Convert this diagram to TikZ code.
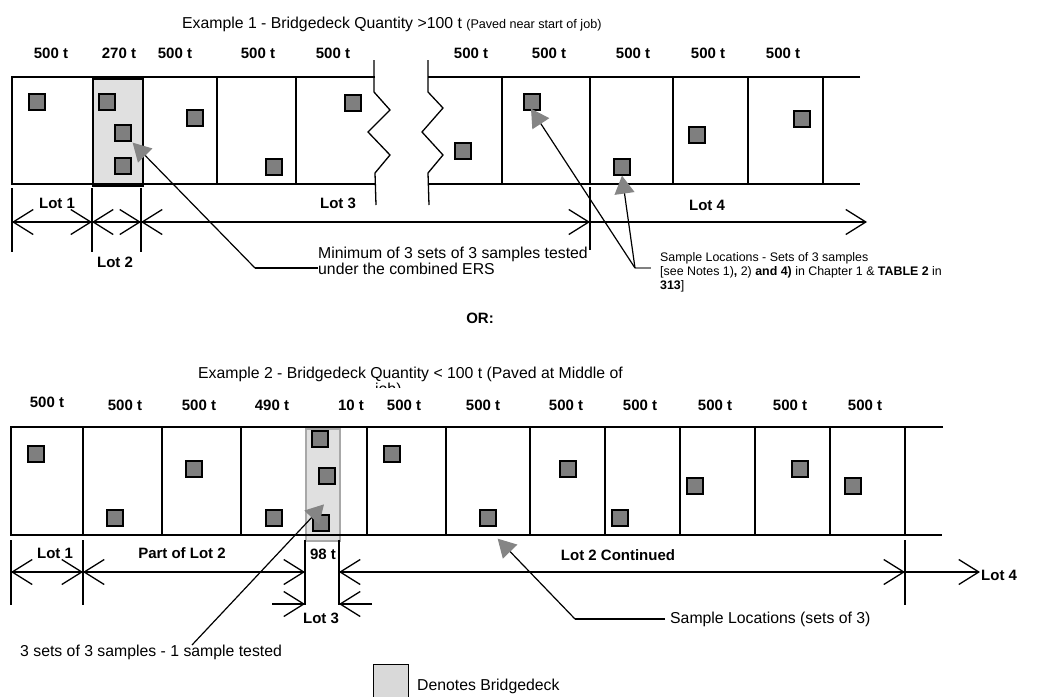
\documentclass[tikz,border=0pt]{standalone}
\usepackage{fontspec}
\setmainfont{Liberation Sans}
\usetikzlibrary{arrows.meta,calc}
\definecolor{sqgray}{HTML}{7F7F7F}
\definecolor{arrgray}{HTML}{858585}
\definecolor{deckgray}{HTML}{E0E0E0}
\definecolor{deckedge}{HTML}{A8A8A8}
\definecolor{leggray}{HTML}{D9D9D9}
\tikzset{
  ln/.style={line width=1.3pt},
  sq/.style={draw, line width=1.3pt, fill=sqgray, minimum size=16pt, inner sep=0pt},
  ton/.style={font=\fontsize{15}{18}\selectfont\bfseries, inner sep=0pt},
  lbl/.style={font=\fontsize{15}{18}\selectfont\bfseries, inner sep=0pt},
  txt/.style={font=\fontsize{15.8}{16}\selectfont, inner sep=0pt, align=left},
  smalltxt/.style={font=\fontsize{12.4}{14}\selectfont, inner sep=0pt, align=left},
  dimboth/.style={line width=1.3pt, {Straight Barb[length=20pt,width=25pt]}-{Straight Barb[length=20pt,width=25pt]}},
  dimend/.style={line width=1.3pt, -{Straight Barb[length=20pt,width=25pt]}},
  callout/.style={line width=1.2pt, -{Triangle[length=18pt,width=20pt,color=arrgray,fill=arrgray]}},
}
\begin{document}
\begin{tikzpicture}[x=1pt,y=-1pt]
\useasboundingbox (0,0) rectangle (1057,696);

% ---------------- Example 1 ----------------
\node[txt, anchor=base west] (title1) at (182,28) {Example 1 - Bridgedeck Quantity >100 t {\fontsize{12.6}{14}\selectfont(Paved near start of job)}};

\foreach \x/\t [count=\i] in {51/500 t,119/270 t,175/500 t,258/500 t,333/500 t,471/500 t,549/500 t,633/500 t,708/500 t,783/500 t}
  \node[ton] (ta\i) at (\x,53) {\t};

% deck (shaded)
\node[draw, line width=1.8pt, fill=deckgray, minimum width=50pt, minimum height=107pt, inner sep=0pt, anchor=north west] (deck1) at (92,78) {};

% strip left part
\draw[ln] (375,77) -- (12,77) -- (12,184) -- (376,184);
\foreach \x in {217,296} \draw[ln] (\x,77) -- (\x,184);
% strip right part
\draw[ln] (860,77) -- (428,77);
\draw[ln] (428,184) -- (860,184);
\foreach \x in {502,590,673,748,823} \draw[ln] (\x,77) -- (\x,184);
% break lines
\draw[ln] (374,60) -- (374,92) -- (390,110) -- (368,132) -- (390,155) -- (375,173) -- (376,205);
\draw[ln] (428,60) -- (428,92) -- (443,108) -- (422,132) -- (443,155) -- (428,173) -- (429,205);

% samples
\node[sq] (e1a) at (37,102) {};
\node[sq] (e1b) at (107,102) {};
\node[sq] (e1c) at (123,133) {};
\node[sq] (e1d) at (123,166) {};
\node[sq] (e1e) at (195,118) {};
\node[sq] (e1f) at (274,167) {};
\node[sq] (e1g) at (353,103) {};
\node[sq] (e1h) at (463,151) {};
\node[sq] (e1i) at (532,102) {};
\node[sq] (e1j) at (622,167) {};
\node[sq] (e1k) at (697,135) {};
\node[sq] (e1l) at (802,119) {};

% dimension lines
\foreach \x in {12,92,141} \draw[ln] (\x,188) -- (\x,252);
\draw[ln] (590,187) -- (590,250);
\coordinate (d1a) at (12,222);
\coordinate (d1b) at (92,222);
\coordinate (d1c) at (141,222);
\coordinate (d1d) at (590,222);
\coordinate (d1e) at (867,222);
\draw[dimboth] (d1a) -- (d1b);
\draw[dimboth] (d1b) -- (d1c);
\draw[dimboth] (d1c) -- (d1d);
\draw[dimend] (d1d) -- (d1e);
\node[lbl] (lot11) at (57,203) {Lot 1};
\node[lbl] (lot12) at (115,262) {Lot 2};
\node[lbl] (lot13) at (338,203) {Lot 3};
\node[lbl] (lot14) at (707,205) {Lot 4};

% callouts
\node[txt, anchor=north west] (min1) at (318,247) {Minimum of 3 sets of 3 samples tested\\under the combined ERS};
\coordinate (k1e) at (318,268);
\coordinate (k1) at (255,268);
\draw[ln, line width=1.2pt] (k1e) -- (k1);
\draw[callout] (k1) -- ($(e1c.south east)+(1,1)$);

\node[smalltxt, anchor=north west] (samp1) at (660,252) {Sample Locations - Sets of 3 samples\\{}[see Notes 1)\textbf{,} 2) \textbf{and 4)} in Chapter 1 \& \textbf{TABLE 2} in\\\textbf{313}]};
\coordinate (k2) at (635,268);
\coordinate (k2e) at (651,268);
\draw[line width=1.2pt, gray] (k2) -- (k2e);
\draw[callout] (k2) -- ($(e1i.south)+(-1,-2)$);
\draw[callout] (k2) -- (e1j.south);

\node[lbl] (or) at (480,318) {OR:};

% ---------------- Example 2 ----------------
\node[txt, anchor=base west] (title2) at (198,378) {Example 2 - Bridgedeck Quantity < 100 t (Paved at Middle of};
\begin{scope}
  \clip (360,370) rectangle (410,387.5);
  \node[txt, anchor=base west] (title2b) at (375,394.5) {job)};
\end{scope}

\foreach \x/\y/\t [count=\i] in {47/402/500 t,125/405/500 t,199/405/500 t,272/405/490 t,351/405/10 t,404/405/500 t,483/405/500 t,566/405/500 t,640/405/500 t,715/405/500 t,790/405/500 t,865/405/500 t}
  \node[ton] (tb\i) at (\x,\y) {\t};

\node[draw=deckedge, line width=1.8pt, fill=deckgray, minimum width=34pt, minimum height=112pt, inner sep=0pt, anchor=north west] (deck2) at (305,428) {};

\draw[ln] (943,427) -- (11,427) -- (11,535) -- (942,535);
\foreach \x in {83,162,241,367,446,530,605,680,755,830,905} \draw[ln] (\x,427) -- (\x,535);

\node[sq] (e2a) at (36,454) {};
\node[sq] (e2b) at (115,518) {};
\node[sq] (e2c) at (194,469) {};
\node[sq] (e2d) at (274,518) {};
\node[sq] (e2e) at (320,439) {};
\node[sq] (e2f) at (327,476) {};
\node[sq] (e2g) at (321,523) {};
\node[sq] (e2h) at (392,454) {};
\node[sq] (e2i) at (488,518) {};
\node[sq] (e2j) at (568,469) {};
\node[sq] (e2k) at (620,518) {};
\node[sq] (e2l) at (695,486) {};
\node[sq] (e2m) at (800,469) {};
\node[sq] (e2n) at (853,486) {};

% dimension lines
\foreach \x in {11,83,305,339,905} \draw[ln] (\x,540) -- (\x,605);
\coordinate (d2a) at (11,572);
\coordinate (d2b) at (83,572);
\coordinate (d2c) at (305,572);
\coordinate (d2d) at (339,572);
\coordinate (d2e) at (905,572);
\coordinate (d2f) at (980,572);
\coordinate (d2g) at (272,604);
\coordinate (d2h) at (305,604);
\coordinate (d2i) at (372,604);
\coordinate (d2j) at (339,604);
\draw[dimboth] (d2a) -- (d2b);
\draw[dimboth] (d2b) -- (d2c);
\draw[dimboth] (d2d) -- (d2e);
\draw[dimend] (d2e) -- (d2f);
\draw[dimend] (d2g) -- (d2h);
\draw[dimend] (d2i) -- (d2j);
\node[lbl] (lot21) at (55,553) {Lot 1};
\node[lbl] (lot22) at (182,553) {Part of Lot 2};
\node[lbl] (t98) at (323,554) {98 t};
\node[lbl] (lot23) at (321,618) {Lot 3};
\node[lbl] (lot2c) at (618,555) {Lot 2 Continued};
\node[lbl, anchor=west] (lot24) at (981,575) {Lot 4};

% callouts
\node[txt, anchor=west] (three) at (20,652) {3 sets of 3 samples - 1 sample tested};
\coordinate (k3) at (192,645);
\draw[callout] (k3) -- ($(e2g.north)+(3,-10)$);

\node[txt, anchor=west] (samp2) at (670,619) {Sample Locations (sets of 3)};
\coordinate (k4) at (575,619);
\coordinate (k4e) at (665,619);
\draw[line width=1.2pt] (k4e) -- (k4);
\draw[callout] (k4) -- ($(e2i.south east)+(1,12)$);

% legend
\node[draw, line width=1.3pt, fill=leggray, minimum width=35pt, minimum height=36pt, inner sep=0pt, anchor=north west] (leg) at (373,664) {};
\node[txt, anchor=west] (legt) at (417,686) {Denotes Bridgedeck};
\end{tikzpicture}
\end{document}
